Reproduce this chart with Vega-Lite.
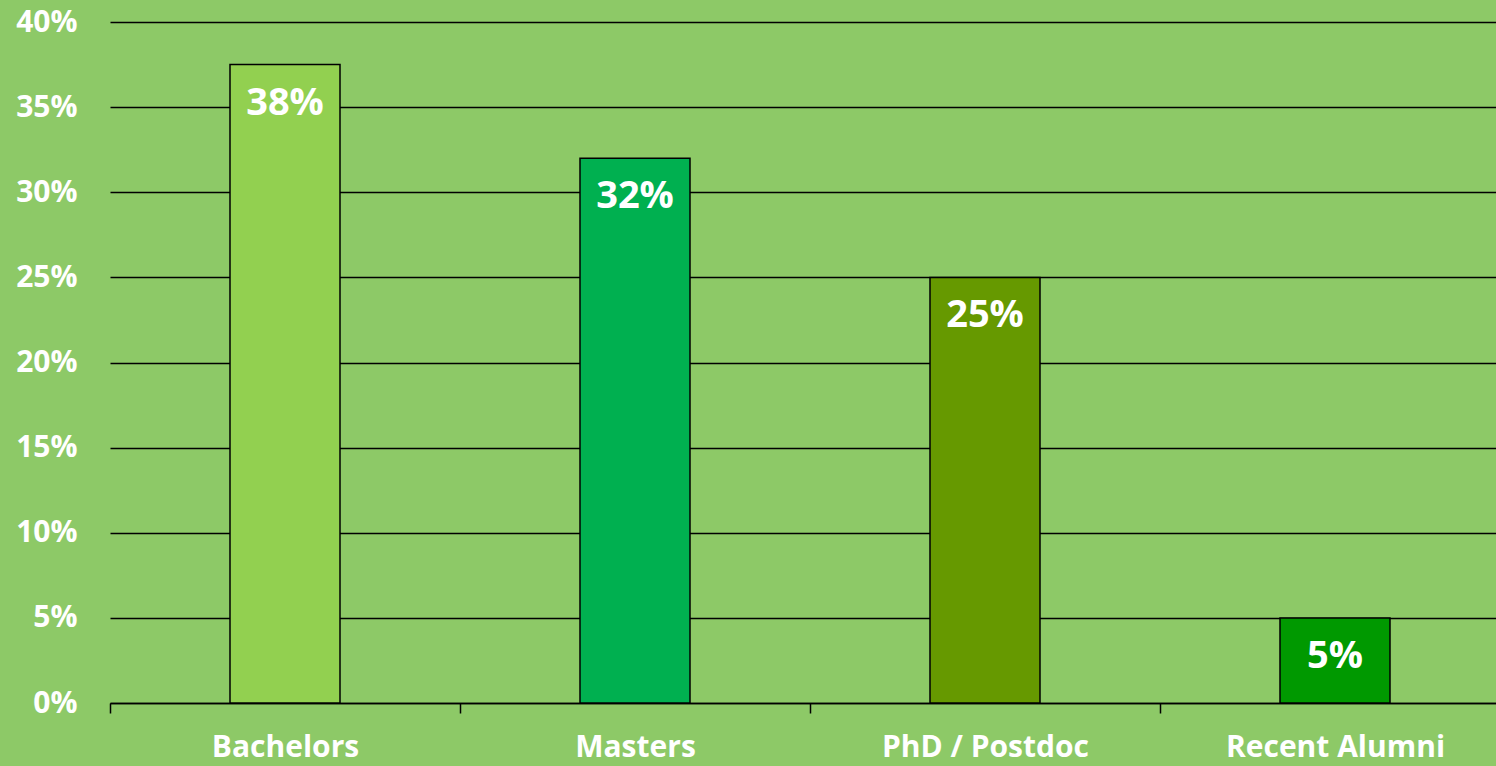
{
  "$schema": "https://vega.github.io/schema/vega-lite/v6.json",
  "width": 1386,
  "height": 681,
  "autosize": {"type": "none"},
  "padding": {"left": 110, "top": 22, "right": 0, "bottom": 63},
  "background": "#8DC967",
  "config": {"view": {"stroke": null}, "font": "Open Sans"},
  "data": {
    "values": [
      {"category": "Bachelors", "share": 0.375},
      {"category": "Masters", "share": 0.32},
      {"category": "PhD / Postdoc", "share": 0.25},
      {"category": "Recent Alumni", "share": 0.05}
    ]
  },
  "encoding": {
    "x": {
      "field": "category",
      "type": "nominal",
      "sort": null,
      "scale": {"range": [0, 1400], "paddingInner": 0, "paddingOuter": 0},
      "axis": {
        "title": null,
        "labelAngle": 0,
        "labelColor": "white",
        "labelFontWeight": "bold",
        "labelFontSize": 30,
        "labelLimit": 400,
        "labelPadding": 19,
        "domainColor": "black",
        "domainWidth": 1.5,
        "tickColor": "black",
        "tickWidth": 1.5,
        "tickSize": 10,
        "tickBand": "extent",
        "grid": false
      }
    },
    "y": {
      "field": "share",
      "type": "quantitative",
      "scale": {"domain": [0, 0.4], "nice": false},
      "axis": {
        "title": null,
        "format": ".0%",
        "values": [0, 0.05, 0.1, 0.15, 0.2, 0.25, 0.3, 0.35, 0.4],
        "labelColor": "white",
        "labelFontWeight": "bold",
        "labelFontSize": 30,
        "labelPadding": 33,
        "domain": false,
        "ticks": false,
        "grid": true,
        "gridColor": "black",
        "gridWidth": 1.5,
        "gridOpacity": 1
      }
    }
  },
  "layer": [
    {
      "mark": {"type": "bar", "width": {"band": 0.3143}, "stroke": "black", "strokeWidth": 1.5},
      "encoding": {
        "color": {
          "field": "category",
          "type": "nominal",
          "sort": null,
          "scale": {"domain": ["Bachelors", "Masters", "PhD / Postdoc", "Recent Alumni"], "range": ["#92D050", "#00B050", "#669900", "#009900"]},
          "legend": null
        }
      }
    },
    {
      "mark": {"type": "text", "color": "white", "fontWeight": "bold", "fontSize": 38, "baseline": "middle", "dy": 39},
      "encoding": {
        "text": {"field": "share", "type": "quantitative", "format": ".0%"}
      }
    }
  ]
}
